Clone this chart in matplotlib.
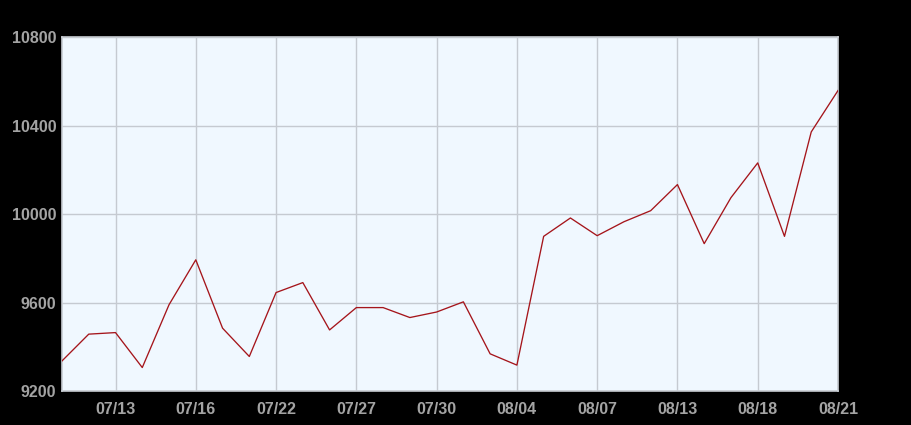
import matplotlib.pyplot as plt
import numpy as np

dates = ["07/11", "07/12", "07/13", "07/14", "07/15", "07/16", "07/19", "07/20",
         "07/22", "07/23", "07/26", "07/27", "07/28", "07/29", "07/30", "08/02",
         "08/03", "08/04", "08/05", "08/06", "08/07", "08/10", "08/11", "08/13",
         "08/14", "08/17", "08/18", "08/19", "08/20", "08/21"]
values = [9336, 9457, 9464, 9306, 9590, 9793, 9484, 9356, 9645, 9690,
          9476, 9577, 9577, 9532, 9557, 9603, 9368, 9317, 9899, 9982,
          9902, 9965, 10015, 10133, 9866, 10074, 10231, 9899, 10371, 10558]
y_ticks = [9200, 9600, 10000, 10400, 10800]

fig = plt.figure(figsize=(9.12, 4.25), dpi=100, facecolor="black")
ax = fig.add_axes([62 / 912, 1 - 391 / 425, 776 / 912, 354 / 425])
ax.set_facecolor("#f0f8ff")

x = np.arange(len(values))
ax.plot(x, values, color="#a5151b", linewidth=0.95, zorder=3)

ax.set_xlim(0, len(values) - 1)
ax.set_ylim(y_ticks[0], y_ticks[-1])
label_idx = list(range(2, len(values), 3))
ax.set_xticks(label_idx)
ax.set_xticklabels([dates[i] for i in label_idx])
ax.set_yticks(y_ticks)

ax.grid(True, color="#c5cad1", linewidth=1.0, zorder=1)
for s in ax.spines.values():
    s.set_color("#c8cdd3")
    s.set_linewidth(1.2)

for lab in ax.get_xticklabels() + ax.get_yticklabels():
    lab.set_fontfamily("Liberation Sans")
    lab.set_fontweight("bold")
    lab.set_fontsize(11.5)
    lab.set_color("#a3a3a3")
ax.tick_params(axis="both", length=0)
ax.tick_params(axis="x", pad=8)
ax.tick_params(axis="y", pad=4)

fig.savefig("out.png", dpi=100, facecolor="black")
